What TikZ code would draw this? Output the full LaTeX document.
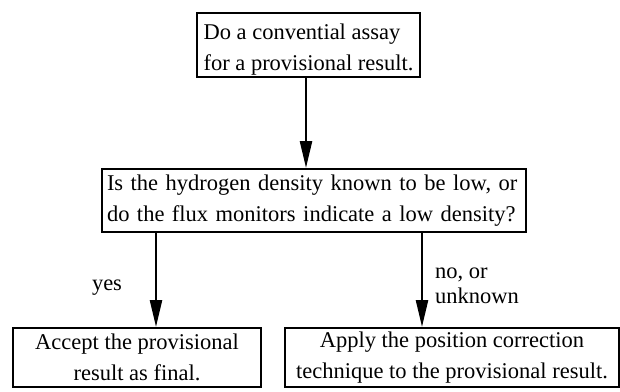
\documentclass[tikz,border=0pt]{standalone}
\usepackage{fontspec}
\setmainfont{Liberation Serif}
\usetikzlibrary{arrows.meta}
\begin{document}
\begin{tikzpicture}[x=1pt,y=-1pt,
  box/.style={draw, line width=2pt, inner sep=0pt, font=\fontsize{22.5}{31}\selectfont},
  arr/.style={line width=2.4pt, -{Triangle[length=27pt,width=12pt]}},
  lbl/.style={font=\fontsize{22.5}{25}\selectfont, inner sep=0pt}]
\useasboundingbox[fill=white] (0,0) rectangle (620,391);
\node[box, minimum width=223pt, minimum height=64pt, inner xsep=4pt, align=left] (top) at (308.5,45) {\rule{0pt}{24pt}Do a convential assay\\for a provisional result.};
\node[box, minimum width=424pt, minimum height=63pt, text width=414pt, align=left] (mid) at (314,200.5) {Is the hydrogen density known to be low, or\\do the flux monitors indicate a low density?};
\node[box, minimum width=248pt, minimum height=59pt, align=center] (acc) at (137,357.5) {Accept the provisional\\result as final.};
\node[box, minimum width=334pt, minimum height=59pt, align=center] (app) at (452,357.5) {Apply the position correction\\technique to the provisional result.};
\draw[arr] (306,0 |- top.south) -- (306,0 |- mid.north);
\draw[arr] (156,0 |- mid.south) -- (156,0 |- acc.north);
\draw[arr] (422,0 |- mid.south) -- (422,0 |- app.north);
\node[lbl, anchor=base] (yes) at (107,290) {yes};
\node[lbl, anchor=base west, align=left] (no) at (435,303) {no, or\\unknown};
\end{tikzpicture}
\end{document}
